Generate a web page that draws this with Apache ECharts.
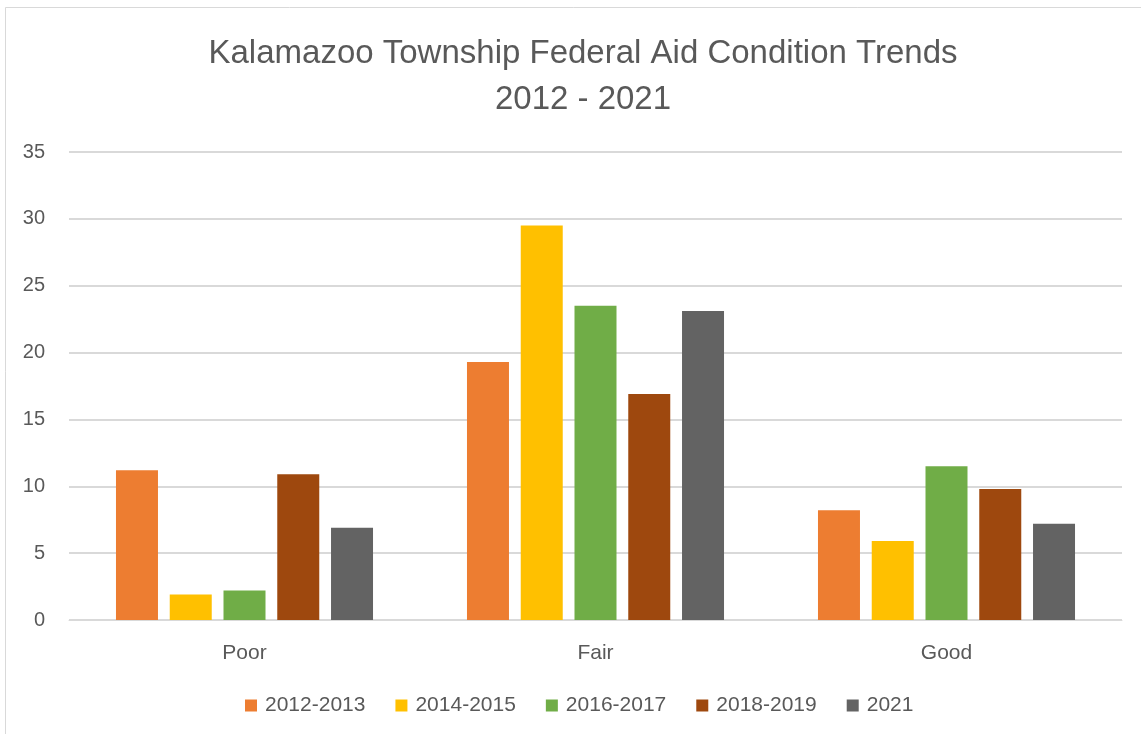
<!DOCTYPE html>
<html>
<head>
<meta charset="utf-8">
<script src="https://cdn.jsdelivr.net/npm/echarts@6/dist/echarts.min.js"></script>
<style>
  html, body { margin: 0; padding: 0; background: #fff; }
  #chart { width: 1141px; height: 734px; }
</style>
</head>
<body>
<div id="chart"></div>
<script>
// 数据
const categories = ['Poor', 'Fair', 'Good'];
const seriesNames = ['2012-2013', '2014-2015', '2016-2017', '2018-2019', '2021'];
const colors = ['#ED7D31', '#FFC000', '#70AD47', '#9E480E', '#636363'];
const v2012 = [11.2, 19.3, 8.2];
const v2014 = [1.9, 29.5, 5.9];
const v2016 = [2.2, 23.5, 11.5];
const v2018 = [10.9, 16.9, 9.8];
const v2021 = [6.9, 23.1, 7.2];
const yTicks = [0, 5, 10, 15, 20, 25, 30, 35];

const allValues = [v2012, v2014, v2016, v2018, v2021];
const font = 'Liberation Sans';

const chart = echarts.init(document.getElementById('chart'));
const option = {
  animation: false,
  backgroundColor: '#fff',
  graphic: [{
    type: 'rect',
    shape: { x: 5.5, y: 7.5, width: 1200, height: 800 },
    style: { fill: 'none', stroke: '#d9d9d9', lineWidth: 1 },
    silent: true
  }],
  title: {
    text: 'Kalamazoo Township Federal Aid Condition Trends\n2012 - 2021',
    left: 578,
    textAlign: 'center',
    top: 26,
    textStyle: {
      fontFamily: font,
      fontSize: 33,
      fontWeight: 'normal',
      color: '#595959',
      lineHeight: 46
    }
  },
  grid: { left: 69, right: 19, top: 152, bottom: 114 },
  legend: {
    top: 695,
    left: 245,
    padding: 0,
    itemWidth: 12,
    itemHeight: 12,
    itemGap: 30,
    icon: 'rect',
    textStyle: { fontFamily: font, fontSize: 21, color: '#595959', padding: [0, 0, 0, 3] },
    data: seriesNames
  },
  xAxis: {
    type: 'category',
    data: categories,
    axisLine: { show: true, lineStyle: { color: '#d9d9d9', width: 1 } },
    axisTick: { show: false },
    axisLabel: { fontFamily: font, fontSize: 21, color: '#595959', margin: 23 }
  },
  yAxis: {
    type: 'value',
    min: yTicks[0],
    max: yTicks[yTicks.length - 1],
    interval: 5,
    axisLine: { show: false },
    axisTick: { show: false },
    axisLabel: { fontFamily: font, fontSize: 20, color: '#595959', margin: 24 },
    splitLine: { lineStyle: { color: '#d9d9d9', width: 2 } }
  },
  series: seriesNames.map(function (name, i) {
    return {
      name: name,
      type: 'bar',
      data: allValues[i],
      barWidth: 42,
      barGap: '28%',
      itemStyle: { color: colors[i] }
    };
  })
};
chart.setOption(option);
</script>
</body>
</html>
